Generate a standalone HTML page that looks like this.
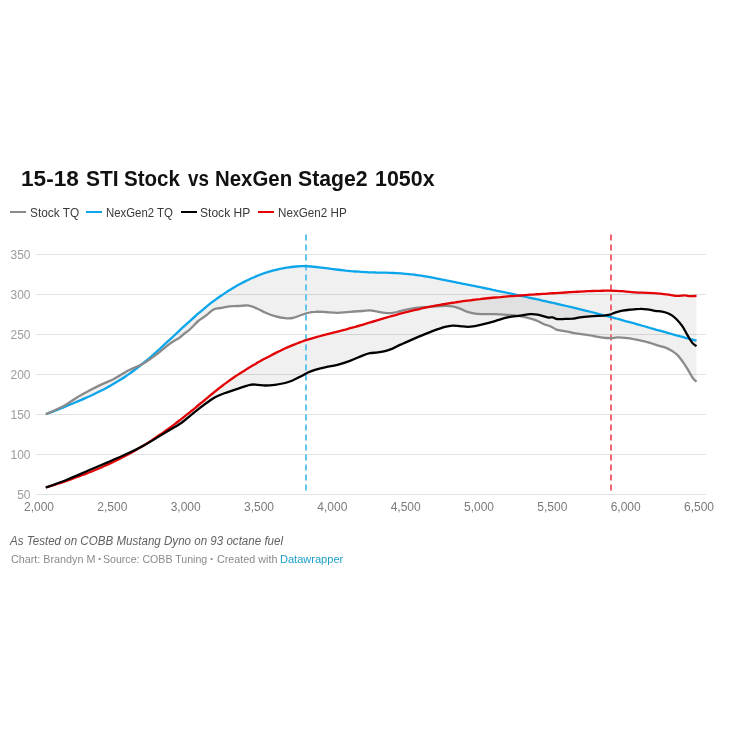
<!DOCTYPE html>
<html lang="en">
<head>
<meta charset="utf-8">
<title>15-18 STI Stock vs NexGen Stage2 1050x</title>
<style>
html,body{margin:0;padding:0;background:#fff;}
body{width:729px;height:729px;position:relative;overflow:hidden;font-family:"Liberation Sans",sans-serif;}
.w{position:absolute;top:0;white-space:nowrap;transform-origin:0 50%;display:block;}
h1{position:absolute;margin:0;left:0;top:164.5px;width:729px;height:28px;font-size:22px;line-height:28px;font-weight:bold;color:#111;white-space:nowrap;transform-origin:0 50%;}
.lg{position:absolute;top:205px;height:16px;line-height:16px;font-size:12px;color:#3a3a3a;white-space:nowrap;transform-origin:0 50%;}
.sw{position:absolute;top:211px;height:2px;width:16px;}
.yl{position:absolute;left:0;width:30.5px;text-align:right;font-size:12px;line-height:16px;color:#9c9c9c;}
.xl{position:absolute;top:499px;width:60px;text-align:center;font-size:12px;line-height:16px;color:#7a7a7a;}
.note{position:absolute;left:10px;top:533px;transform:scaleX(0.9647);color:#626262;font-size:12px;line-height:16px;font-style:italic;white-space:nowrap;transform-origin:0 50%;}
.foot{position:absolute;left:0;top:551.3px;width:729px;height:16px;font-size:11px;line-height:16px;color:#8a8a8a;white-space:nowrap;transform-origin:0 50%;}
.foot a{color:#1d9ec9;text-decoration:none;}
svg{position:absolute;left:0;top:0;}
</style>
</head>
<body>
<h1 id="title"><span class="w" style="left:21.47px;transform:scaleX(1.0273)">15-18</span> <span class="w" style="left:85.55px;transform:scaleX(0.9531)">STI</span> <span class="w" style="left:123.57px;transform:scaleX(0.9322)">Stock</span> <span class="w" style="left:187.6px;transform:scaleX(0.8542)">vs</span> <span class="w" style="left:215.37px;transform:scaleX(0.9272)">NexGen</span> <span class="w" style="left:298.34px;transform:scaleX(0.9643)">Stage2</span> <span class="w" style="left:374.63px;transform:scaleX(0.9733)">1050x</span></h1>
<div class="sw" style="left:10px;background:#8a8a8a"></div><div class="lg" id="l1" style="left:29.51px;transform:scaleX(0.9896)">Stock TQ</div>
<div class="sw" style="left:86px;background:#0aa5ea"></div><div class="lg" id="l2" style="left:106.05px;transform:scaleX(0.9493)">NexGen2 TQ</div>
<div class="sw" style="left:180.6px;background:#000"></div><div class="lg" id="l3" style="left:200.24px;transform:scaleX(1.0052)">Stock HP</div>
<div class="sw" style="left:258px;background:#e30206"></div><div class="lg" id="l4" style="left:277.78px;transform:scaleX(0.971)">NexGen2 HP</div>
<svg width="729" height="729" viewBox="0 0 729 729">
<g shape-rendering="crispEdges">
<line x1="36" x2="706" y1="254.5" y2="254.5" stroke="#e2e2e2" stroke-width="1"/>
<line x1="36" x2="706" y1="294.5" y2="294.5" stroke="#e2e2e2" stroke-width="1"/>
<line x1="36" x2="706" y1="334.5" y2="334.5" stroke="#e2e2e2" stroke-width="1"/>
<line x1="36" x2="706" y1="374.5" y2="374.5" stroke="#e2e2e2" stroke-width="1"/>
<line x1="36" x2="706" y1="414.5" y2="414.5" stroke="#e2e2e2" stroke-width="1"/>
<line x1="36" x2="706" y1="454.5" y2="454.5" stroke="#e2e2e2" stroke-width="1"/>
<line x1="36" x2="706" y1="494.5" y2="494.5" stroke="#e2e2e2" stroke-width="1"/>
</g>
<path d="M45.8,414.2C46.6,413.9 49.1,413.1 50.8,412.4C52.4,411.8 54.1,411.1 55.8,410.4C57.4,409.7 59.1,409.0 60.8,408.4C62.4,407.7 64.1,407.0 65.8,406.4C67.4,405.7 69.1,405.0 70.8,404.3C72.4,403.6 74.1,402.9 75.8,402.2C77.5,401.5 79.1,400.8 80.8,400.1C82.5,399.4 84.1,398.7 85.8,397.9C87.5,397.2 89.1,396.4 90.8,395.7C92.5,394.9 94.1,394.1 95.8,393.3C97.5,392.5 99.1,391.7 100.8,390.8C102.5,390.0 104.2,389.1 105.8,388.2C107.5,387.3 109.2,386.4 110.8,385.5C112.5,384.5 114.2,383.6 115.8,382.6C117.5,381.6 119.2,380.5 120.8,379.5C122.5,378.4 124.2,377.3 125.8,376.2C127.5,375.1 129.2,373.9 130.8,372.8C132.5,371.6 134.2,370.3 135.9,369.1C137.5,367.8 139.2,366.5 140.9,365.1C142.5,363.8 144.2,362.4 145.9,361.0C147.5,359.6 149.2,358.2 150.9,356.8C152.5,355.3 154.2,353.8 155.9,352.3C157.5,350.9 159.2,349.3 160.9,347.8C162.6,346.3 164.2,344.8 165.9,343.2C167.6,341.7 169.2,340.1 170.9,338.6C172.6,337.0 174.2,335.5 175.9,333.9C177.6,332.3 179.2,330.8 180.9,329.2C182.6,327.7 184.2,326.1 185.9,324.6C187.6,323.1 189.2,321.6 190.9,320.1C192.6,318.6 194.3,317.1 195.9,315.6C197.6,314.1 199.3,312.7 200.9,311.3C202.6,309.9 204.3,308.5 205.9,307.1C207.6,305.8 209.3,304.4 210.9,303.1C212.6,301.8 214.3,300.6 215.9,299.4C217.6,298.1 219.3,296.9 221.0,295.8C222.6,294.6 224.3,293.5 226.0,292.4C227.6,291.3 229.3,290.2 231.0,289.2C232.6,288.2 234.3,287.2 236.0,286.2C237.6,285.3 239.3,284.4 241.0,283.5C242.6,282.6 244.3,281.7 246.0,280.9C247.6,280.1 249.3,279.3 251.0,278.5C252.7,277.8 254.3,277.1 256.0,276.4C257.7,275.7 259.3,275.0 261.0,274.4C262.7,273.8 264.3,273.2 266.0,272.7C267.7,272.1 269.3,271.6 271.0,271.1C272.7,270.7 274.3,270.2 276.0,269.8C277.7,269.4 279.4,269.0 281.0,268.7C282.7,268.3 284.4,268.0 286.0,267.7C287.7,267.5 289.4,267.2 291.0,267.0C292.7,266.8 294.4,266.6 296.0,266.5C297.7,266.4 299.4,266.3 301.0,266.2C302.7,266.2 304.4,266.2 306.1,266.2C307.7,266.3 309.4,266.4 311.1,266.5C312.7,266.6 314.4,266.8 316.1,267.0C317.7,267.2 319.4,267.4 321.1,267.6C322.7,267.8 324.4,268.0 326.1,268.2C327.7,268.4 329.4,268.6 331.1,268.8C332.7,269.0 334.4,269.3 336.1,269.5C337.8,269.7 339.4,269.8 341.1,270.0C342.8,270.2 344.4,270.4 346.1,270.6C347.8,270.7 349.4,270.9 351.1,271.1C352.8,271.2 354.4,271.4 356.1,271.5C357.8,271.6 359.4,271.7 361.1,271.8C362.8,271.9 364.5,272.0 366.1,272.1C367.8,272.2 369.5,272.3 371.1,272.3C372.8,272.4 374.5,272.4 376.1,272.5C377.8,272.5 379.5,272.6 381.1,272.6C382.8,272.7 384.5,272.7 386.1,272.7C387.8,272.8 389.5,272.8 391.1,272.9C392.8,273.0 394.5,273.0 396.2,273.1C397.8,273.2 399.5,273.3 401.2,273.4C402.8,273.5 404.5,273.7 406.2,273.8C407.8,274.0 409.5,274.1 411.2,274.3C412.8,274.5 414.5,274.7 416.2,275.0C417.8,275.2 419.5,275.4 421.2,275.7C422.9,276.0 424.5,276.2 426.2,276.5C427.9,276.8 429.5,277.1 431.2,277.4C432.9,277.7 434.5,278.0 436.2,278.4C437.9,278.7 439.5,279.0 441.2,279.3C442.9,279.7 444.5,280.0 446.2,280.3C447.9,280.6 449.5,281.0 451.2,281.3C452.9,281.6 454.6,282.0 456.2,282.3C457.9,282.7 459.6,283.0 461.2,283.3C462.9,283.7 464.6,284.0 466.2,284.3C467.9,284.7 469.6,285.0 471.2,285.4C472.9,285.7 474.6,286.0 476.2,286.4C477.9,286.7 479.6,287.1 481.3,287.4C482.9,287.8 484.6,288.1 486.3,288.5C487.9,288.8 489.6,289.2 491.3,289.5C492.9,289.9 494.6,290.2 496.3,290.6C497.9,290.9 499.6,291.3 501.3,291.6C502.9,292.0 504.6,292.3 506.3,292.7C507.9,293.0 509.6,293.4 511.3,293.7C513.0,294.1 514.6,294.5 516.3,294.8C518.0,295.2 519.6,295.5 521.3,295.9C523.0,296.3 524.6,296.6 526.3,297.0C528.0,297.4 529.6,297.7 531.3,298.1C533.0,298.5 534.6,298.8 536.3,299.2C538.0,299.6 539.7,299.9 541.3,300.3C543.0,300.7 544.7,301.0 546.3,301.4C548.0,301.8 549.7,302.2 551.3,302.5C553.0,302.9 554.7,303.3 556.3,303.7C558.0,304.1 559.7,304.5 561.3,304.8C563.0,305.2 564.7,305.6 566.4,306.0C568.0,306.4 569.7,306.8 571.4,307.2C573.0,307.6 574.7,308.0 576.4,308.4C578.0,308.8 579.7,309.2 581.4,309.6C583.0,310.0 584.7,310.4 586.4,310.8C588.0,311.2 589.7,311.6 591.4,312.0C593.0,312.5 594.7,312.9 596.4,313.3C598.1,313.7 599.7,314.1 601.4,314.6C603.1,315.0 604.7,315.4 606.4,315.9C608.1,316.3 609.7,316.7 611.4,317.2C613.1,317.6 614.7,318.1 616.4,318.5C618.1,319.0 619.7,319.4 621.4,319.9C623.1,320.4 624.8,320.8 626.4,321.3C628.1,321.7 629.8,322.2 631.4,322.7C633.1,323.1 634.8,323.6 636.4,324.1C638.1,324.6 639.8,325.0 641.4,325.5C643.1,326.0 644.8,326.5 646.4,326.9C648.1,327.4 649.8,327.9 651.4,328.4C653.1,328.8 654.8,329.3 656.5,329.8C658.1,330.2 659.8,330.7 661.5,331.2C663.1,331.7 664.8,332.1 666.5,332.6C668.1,333.1 669.8,333.5 671.5,334.0C673.1,334.5 674.8,334.9 676.5,335.4C678.1,335.8 679.8,336.3 681.5,336.7C683.2,337.2 684.8,337.6 686.5,338.1C688.2,338.5 689.8,339.0 691.5,339.4C693.2,339.8 695.7,340.4 696.5,340.6L696.5,381.8C695.8,381.1 693.8,379.5 692.3,377.3C690.8,375.1 689.0,371.3 687.3,368.6C685.6,365.9 684.0,363.4 682.3,361.1C680.6,358.8 679.0,356.6 677.3,354.9C675.6,353.2 674.3,352.4 672.3,351.1C670.2,349.9 667.5,348.3 665.0,347.4C662.5,346.4 659.9,346.1 657.4,345.4C654.9,344.6 652.9,343.7 650.0,342.9C647.1,342.1 643.8,341.2 640.0,340.4C636.2,339.6 631.2,338.6 627.4,338.1C623.6,337.6 620.1,337.4 617.4,337.4C614.7,337.4 613.5,338.1 611.0,338.1C608.5,338.1 606.0,338.1 602.5,337.6C599.0,337.2 594.2,336.1 590.0,335.4C585.8,334.7 581.2,334.2 577.5,333.6C573.8,333.0 570.4,332.2 567.5,331.6C564.6,331.1 561.9,330.6 560.0,330.3C558.1,330.0 558.0,330.3 556.4,329.6C554.8,328.9 552.3,327.1 550.2,326.2C548.1,325.3 546.1,325.2 544.0,324.3C541.9,323.4 539.5,321.9 537.5,321.0C535.5,320.1 534.6,319.6 531.7,318.8C528.8,318.0 524.0,316.9 520.0,316.2C516.0,315.5 511.7,315.2 507.5,314.9C503.3,314.6 499.2,314.3 495.0,314.2C490.8,314.1 485.8,314.3 482.5,314.2C479.2,314.1 477.5,314.1 475.0,313.7C472.5,313.3 470.0,312.7 467.5,311.9C465.0,311.1 462.5,309.6 460.0,308.7C457.5,307.8 455.0,306.9 452.5,306.4C450.0,305.9 448.3,305.8 445.0,305.9C441.7,305.9 436.7,306.4 432.5,306.7C428.3,306.9 424.2,306.9 420.0,307.4C415.8,307.8 410.8,308.8 407.5,309.4C404.2,310.0 402.5,310.6 400.0,311.2C397.5,311.8 395.0,312.6 392.5,312.9C390.0,313.2 387.5,313.1 385.0,312.9C382.5,312.7 380.0,312.1 377.5,311.7C375.0,311.3 372.5,310.5 370.0,310.4C367.5,310.3 365.8,310.8 362.5,311.0C359.2,311.2 354.2,311.5 350.0,311.8C345.8,312.0 341.7,312.7 337.5,312.8C333.3,312.8 328.8,312.2 325.0,312.0C321.2,311.8 317.9,311.6 315.0,311.8C312.1,311.9 310.0,312.4 307.5,313.0C305.0,313.6 302.5,314.7 300.0,315.5C297.5,316.3 295.0,317.5 292.5,318.0C290.0,318.5 287.9,318.5 285.0,318.2C282.1,318.0 278.3,317.2 275.0,316.2C271.7,315.3 267.9,313.8 265.0,312.5C262.1,311.2 260.0,309.9 257.5,308.8C255.0,307.6 252.1,306.3 250.0,305.8C247.9,305.2 247.1,305.5 245.0,305.5C242.9,305.5 239.3,305.9 237.2,306.0C235.1,306.1 234.0,306.1 232.4,306.2C230.8,306.3 229.2,306.4 227.6,306.6C226.0,306.9 224.4,307.4 222.8,307.7C221.2,308.0 219.6,308.0 218.0,308.3C216.4,308.6 214.8,308.8 213.2,309.7C211.6,310.6 210.0,312.3 208.4,313.6C206.8,314.9 205.2,316.2 203.6,317.3C202.0,318.4 200.4,319.2 198.8,320.5C197.2,321.8 195.6,323.7 194.0,325.3C192.4,326.9 190.8,328.6 189.2,330.0C187.6,331.4 186.0,332.2 184.4,333.5C182.8,334.8 181.2,336.4 179.6,337.6C178.0,338.8 176.4,339.5 174.8,340.5C173.2,341.5 173.0,341.3 170.0,343.6C167.0,345.9 161.2,350.9 157.0,354.1C152.8,357.3 149.2,360.1 144.7,362.7C140.2,365.3 133.1,368.3 130.0,369.8C127.0,371.3 129.1,370.0 126.4,371.5C123.7,373.0 118.1,376.8 114.0,378.9C109.9,381.0 105.8,382.4 101.7,384.4C97.6,386.3 93.5,388.4 89.4,390.6C85.3,392.8 81.1,394.9 77.0,397.4C72.9,399.9 69.9,402.6 64.7,405.4C59.5,408.2 48.9,412.8 45.8,414.2Z" fill="#000" fill-opacity="0.06"/>
<path d="M45.8,487.5C46.6,487.3 49.1,486.6 50.7,486.0C52.4,485.5 54.1,485.0 55.7,484.4C57.4,483.9 59.1,483.3 60.7,482.8C62.4,482.2 64.1,481.6 65.7,481.1C67.4,480.5 69.1,479.9 70.7,479.3C72.4,478.7 74.0,478.1 75.7,477.5C77.4,476.9 79.0,476.3 80.7,475.7C82.4,475.1 84.0,474.4 85.7,473.8C87.4,473.2 89.0,472.5 90.7,471.8C92.4,471.2 94.0,470.5 95.7,469.8C97.3,469.1 99.0,468.4 100.7,467.7C102.3,467.0 104.0,466.2 105.7,465.5C107.3,464.7 109.0,464.0 110.7,463.2C112.3,462.4 114.0,461.6 115.7,460.8C117.3,460.0 119.0,459.2 120.7,458.3C122.3,457.5 124.0,456.6 125.6,455.8C127.3,454.9 129.0,454.0 130.6,453.1C132.3,452.1 134.0,451.2 135.6,450.2C137.3,449.3 139.0,448.3 140.6,447.3C142.3,446.3 144.0,445.3 145.6,444.2C147.3,443.2 148.9,442.1 150.6,441.1C152.3,440.0 153.9,438.9 155.6,437.7C157.3,436.6 158.9,435.5 160.6,434.3C162.3,433.2 163.9,432.0 165.6,430.8C167.3,429.6 168.9,428.4 170.6,427.1C172.2,425.9 173.9,424.7 175.6,423.4C177.2,422.1 178.9,420.9 180.6,419.6C182.2,418.3 183.9,417.0 185.6,415.6C187.2,414.3 188.9,413.0 190.6,411.6C192.2,410.3 193.9,408.9 195.6,407.6C197.2,406.2 198.9,404.8 200.5,403.4C202.2,402.1 203.9,400.7 205.5,399.3C207.2,397.9 208.9,396.5 210.5,395.2C212.2,393.8 213.9,392.5 215.5,391.1C217.2,389.8 218.9,388.5 220.5,387.2C222.2,385.9 223.8,384.6 225.5,383.4C227.2,382.2 228.8,381.0 230.5,379.8C232.2,378.6 233.8,377.5 235.5,376.3C237.2,375.2 238.8,374.1 240.5,373.0C242.2,371.9 243.8,370.9 245.5,369.9C247.2,368.8 248.8,367.8 250.5,366.8C252.1,365.8 253.8,364.8 255.5,363.9C257.1,362.9 258.8,362.0 260.5,361.1C262.1,360.1 263.8,359.2 265.5,358.3C267.1,357.4 268.8,356.5 270.5,355.7C272.1,354.8 273.8,353.9 275.4,353.1C277.1,352.3 278.8,351.4 280.4,350.7C282.1,349.9 283.8,349.1 285.4,348.3C287.1,347.6 288.8,346.8 290.4,346.1C292.1,345.4 293.8,344.7 295.4,344.1C297.1,343.4 298.8,342.8 300.4,342.1C302.1,341.5 303.7,341.0 305.4,340.4C307.1,339.8 308.7,339.3 310.4,338.8C312.1,338.3 313.7,337.8 315.4,337.3C317.1,336.9 318.7,336.4 320.4,336.0C322.1,335.5 323.7,335.1 325.4,334.7C327.0,334.3 328.7,333.9 330.4,333.4C332.0,333.0 333.7,332.6 335.4,332.2C337.0,331.8 338.7,331.4 340.4,330.9C342.0,330.5 343.7,330.0 345.4,329.6C347.0,329.1 348.7,328.7 350.3,328.2C352.0,327.7 353.7,327.2 355.3,326.8C357.0,326.3 358.7,325.8 360.3,325.3C362.0,324.8 363.7,324.3 365.3,323.8C367.0,323.4 368.7,322.9 370.3,322.4C372.0,321.9 373.7,321.4 375.3,320.9C377.0,320.4 378.6,319.9 380.3,319.4C382.0,318.9 383.6,318.4 385.3,317.9C387.0,317.4 388.6,317.0 390.3,316.5C392.0,316.0 393.6,315.5 395.3,315.1C397.0,314.6 398.6,314.2 400.3,313.7C401.9,313.3 403.6,312.8 405.3,312.4C406.9,312.0 408.6,311.5 410.3,311.1C411.9,310.7 413.6,310.3 415.3,309.9C416.9,309.6 418.6,309.2 420.3,308.8C421.9,308.4 423.6,308.1 425.2,307.7C426.9,307.4 428.6,307.0 430.2,306.7C431.9,306.4 433.6,306.0 435.2,305.7C436.9,305.4 438.6,305.1 440.2,304.8C441.9,304.5 443.6,304.2 445.2,304.0C446.9,303.7 448.6,303.4 450.2,303.1C451.9,302.9 453.5,302.6 455.2,302.4C456.9,302.1 458.5,301.9 460.2,301.6C461.9,301.4 463.5,301.2 465.2,300.9C466.9,300.7 468.5,300.5 470.2,300.3C471.9,300.1 473.5,299.9 475.2,299.7C476.8,299.5 478.5,299.3 480.2,299.1C481.8,298.9 483.5,298.7 485.2,298.5C486.8,298.4 488.5,298.2 490.2,298.0C491.8,297.9 493.5,297.7 495.2,297.5C496.8,297.4 498.5,297.2 500.2,297.1C501.8,296.9 503.5,296.8 505.1,296.6C506.8,296.5 508.5,296.4 510.1,296.2C511.8,296.1 513.5,296.0 515.1,295.8C516.8,295.7 518.5,295.6 520.1,295.5C521.8,295.3 523.5,295.2 525.1,295.1C526.8,295.0 528.4,294.9 530.1,294.7C531.8,294.6 533.4,294.5 535.1,294.4C536.8,294.3 538.4,294.2 540.1,294.1C541.8,294.0 543.4,293.9 545.1,293.8C546.8,293.6 548.4,293.5 550.1,293.4C551.8,293.3 553.4,293.2 555.1,293.1C556.7,293.0 558.4,292.9 560.1,292.8C561.7,292.7 563.4,292.6 565.1,292.5C566.7,292.4 568.4,292.3 570.1,292.2C571.7,292.1 573.4,292.0 575.1,291.9C576.7,291.8 578.4,291.7 580.0,291.6C581.7,291.5 583.4,291.4 585.0,291.3C586.7,291.2 588.4,291.2 590.0,291.1C591.7,291.0 593.4,291.0 595.0,290.9C596.7,290.9 598.4,290.8 600.0,290.8C601.7,290.8 603.3,290.7 605.0,290.7C606.7,290.7 608.3,290.7 610.0,290.7C611.7,290.8 612.9,290.8 615.0,290.8C617.1,290.9 619.2,290.9 622.5,291.2C625.8,291.5 630.8,292.1 635.0,292.4C639.2,292.7 643.3,292.7 647.5,292.9C651.7,293.1 656.2,293.4 660.0,293.7C663.8,294.0 667.1,294.5 670.0,294.9C672.9,295.3 675.0,295.8 677.5,295.9C680.0,296.0 682.9,295.3 685.0,295.4C687.1,295.4 688.1,296.1 690.0,296.2C691.9,296.3 695.4,295.9 696.5,295.9L696.5,346.1C695.8,345.6 693.8,344.8 692.3,342.9C690.8,341.0 689.0,337.7 687.3,334.9C685.6,332.1 684.2,328.8 682.3,326.1C680.4,323.4 678.0,320.7 676.0,318.7C674.0,316.7 672.3,315.4 670.0,314.2C667.7,313.0 664.8,312.2 662.3,311.7C659.8,311.1 657.5,311.3 655.0,310.9C652.5,310.5 650.0,309.7 647.5,309.4C645.0,309.1 642.9,308.8 640.0,308.9C637.1,308.9 632.9,309.4 630.0,309.7C627.1,310.0 625.0,310.2 622.5,310.7C620.0,311.2 617.3,312.0 615.0,312.7C612.7,313.4 610.8,314.4 608.7,314.9C606.6,315.4 605.6,315.4 602.5,315.7C599.4,315.9 593.8,316.1 590.0,316.4C586.2,316.7 582.9,317.0 580.0,317.4C577.1,317.8 575.0,318.4 572.5,318.7C570.0,318.9 567.5,318.8 565.0,318.9C562.5,319.0 559.6,319.4 557.5,319.1C555.4,318.9 554.2,317.7 552.5,317.4C550.8,317.1 550.0,317.9 547.5,317.4C545.0,316.9 540.4,315.1 537.5,314.6C534.6,314.1 532.9,314.0 530.0,314.2C527.1,314.4 523.8,315.2 520.0,315.7C516.2,316.2 511.7,316.5 507.5,317.4C503.3,318.3 499.2,319.9 495.0,321.1C490.8,322.3 485.8,323.6 482.5,324.4C479.2,325.2 477.5,325.7 475.0,326.1C472.5,326.5 470.0,326.9 467.5,326.9C465.0,326.9 462.5,326.3 460.0,326.1C457.5,325.9 455.0,325.5 452.5,325.6C450.0,325.7 448.3,326.0 445.0,326.9C441.7,327.8 436.7,329.6 432.5,331.1C428.3,332.6 424.2,334.4 420.0,336.1C415.8,337.9 410.8,340.1 407.5,341.6C404.2,343.1 402.5,343.7 400.0,344.9C397.5,346.1 395.0,347.6 392.5,348.6C390.0,349.6 387.5,350.5 385.0,351.1C382.5,351.7 380.0,352.0 377.5,352.4C375.0,352.8 372.5,352.7 370.0,353.2C367.5,353.7 365.8,354.3 362.5,355.6C359.2,356.9 354.2,359.3 350.0,360.8C345.8,362.3 341.7,363.7 337.5,364.8C333.3,365.9 328.8,366.5 325.0,367.3C321.2,368.1 317.9,368.9 315.0,369.8C312.1,370.7 310.0,371.6 307.5,372.8C305.0,374.0 302.5,375.5 300.0,376.8C297.5,378.1 295.0,379.5 292.5,380.5C290.0,381.5 287.9,382.3 285.0,383.0C282.1,383.7 278.3,384.4 275.0,384.8C271.7,385.2 267.9,385.5 265.0,385.5C262.1,385.5 260.0,384.9 257.5,384.8C255.0,384.7 253.3,384.1 250.0,384.8C246.7,385.5 241.7,387.4 237.5,388.8C233.3,390.2 228.8,391.6 225.0,393.0C221.2,394.4 217.9,395.8 215.0,397.3C212.1,398.9 210.0,400.6 207.5,402.3C205.0,404.1 202.5,405.9 200.0,407.8C197.5,409.7 195.8,411.1 192.5,413.8C189.2,416.4 184.2,420.8 180.0,423.8C175.8,426.7 173.8,427.5 167.5,431.2C161.2,435.0 150.8,441.8 142.5,446.2C134.2,450.7 125.8,454.2 117.5,458.0C109.2,461.8 100.8,465.2 92.5,468.8C84.2,472.3 75.3,476.4 67.5,479.5C59.7,482.6 49.4,486.2 45.8,487.5Z" fill="#000" fill-opacity="0.06"/>
<line x1="306" x2="306" y1="234.5" y2="494.5" stroke="#62c6ec" stroke-width="2" stroke-dasharray="6,4"/>
<line x1="611" x2="611" y1="234.5" y2="494.5" stroke="#ef6570" stroke-width="2" stroke-dasharray="6,4"/>
<g fill="none" stroke-width="2.3" stroke-linejoin="round" stroke-linecap="butt">
<path d="M45.8,414.2C46.6,413.9 49.1,413.1 50.8,412.4C52.4,411.8 54.1,411.1 55.8,410.4C57.4,409.7 59.1,409.0 60.8,408.4C62.4,407.7 64.1,407.0 65.8,406.4C67.4,405.7 69.1,405.0 70.8,404.3C72.4,403.6 74.1,402.9 75.8,402.2C77.5,401.5 79.1,400.8 80.8,400.1C82.5,399.4 84.1,398.7 85.8,397.9C87.5,397.2 89.1,396.4 90.8,395.7C92.5,394.9 94.1,394.1 95.8,393.3C97.5,392.5 99.1,391.7 100.8,390.8C102.5,390.0 104.2,389.1 105.8,388.2C107.5,387.3 109.2,386.4 110.8,385.5C112.5,384.5 114.2,383.6 115.8,382.6C117.5,381.6 119.2,380.5 120.8,379.5C122.5,378.4 124.2,377.3 125.8,376.2C127.5,375.1 129.2,373.9 130.8,372.8C132.5,371.6 134.2,370.3 135.9,369.1C137.5,367.8 139.2,366.5 140.9,365.1C142.5,363.8 144.2,362.4 145.9,361.0C147.5,359.6 149.2,358.2 150.9,356.8C152.5,355.3 154.2,353.8 155.9,352.3C157.5,350.9 159.2,349.3 160.9,347.8C162.6,346.3 164.2,344.8 165.9,343.2C167.6,341.7 169.2,340.1 170.9,338.6C172.6,337.0 174.2,335.5 175.9,333.9C177.6,332.3 179.2,330.8 180.9,329.2C182.6,327.7 184.2,326.1 185.9,324.6C187.6,323.1 189.2,321.6 190.9,320.1C192.6,318.6 194.3,317.1 195.9,315.6C197.6,314.1 199.3,312.7 200.9,311.3C202.6,309.9 204.3,308.5 205.9,307.1C207.6,305.8 209.3,304.4 210.9,303.1C212.6,301.8 214.3,300.6 215.9,299.4C217.6,298.1 219.3,296.9 221.0,295.8C222.6,294.6 224.3,293.5 226.0,292.4C227.6,291.3 229.3,290.2 231.0,289.2C232.6,288.2 234.3,287.2 236.0,286.2C237.6,285.3 239.3,284.4 241.0,283.5C242.6,282.6 244.3,281.7 246.0,280.9C247.6,280.1 249.3,279.3 251.0,278.5C252.7,277.8 254.3,277.1 256.0,276.4C257.7,275.7 259.3,275.0 261.0,274.4C262.7,273.8 264.3,273.2 266.0,272.7C267.7,272.1 269.3,271.6 271.0,271.1C272.7,270.7 274.3,270.2 276.0,269.8C277.7,269.4 279.4,269.0 281.0,268.7C282.7,268.3 284.4,268.0 286.0,267.7C287.7,267.5 289.4,267.2 291.0,267.0C292.7,266.8 294.4,266.6 296.0,266.5C297.7,266.4 299.4,266.3 301.0,266.2C302.7,266.2 304.4,266.2 306.1,266.2C307.7,266.3 309.4,266.4 311.1,266.5C312.7,266.6 314.4,266.8 316.1,267.0C317.7,267.2 319.4,267.4 321.1,267.6C322.7,267.8 324.4,268.0 326.1,268.2C327.7,268.4 329.4,268.6 331.1,268.8C332.7,269.0 334.4,269.3 336.1,269.5C337.8,269.7 339.4,269.8 341.1,270.0C342.8,270.2 344.4,270.4 346.1,270.6C347.8,270.7 349.4,270.9 351.1,271.1C352.8,271.2 354.4,271.4 356.1,271.5C357.8,271.6 359.4,271.7 361.1,271.8C362.8,271.9 364.5,272.0 366.1,272.1C367.8,272.2 369.5,272.3 371.1,272.3C372.8,272.4 374.5,272.4 376.1,272.5C377.8,272.5 379.5,272.6 381.1,272.6C382.8,272.7 384.5,272.7 386.1,272.7C387.8,272.8 389.5,272.8 391.1,272.9C392.8,273.0 394.5,273.0 396.2,273.1C397.8,273.2 399.5,273.3 401.2,273.4C402.8,273.5 404.5,273.7 406.2,273.8C407.8,274.0 409.5,274.1 411.2,274.3C412.8,274.5 414.5,274.7 416.2,275.0C417.8,275.2 419.5,275.4 421.2,275.7C422.9,276.0 424.5,276.2 426.2,276.5C427.9,276.8 429.5,277.1 431.2,277.4C432.9,277.7 434.5,278.0 436.2,278.4C437.9,278.7 439.5,279.0 441.2,279.3C442.9,279.7 444.5,280.0 446.2,280.3C447.9,280.6 449.5,281.0 451.2,281.3C452.9,281.6 454.6,282.0 456.2,282.3C457.9,282.7 459.6,283.0 461.2,283.3C462.9,283.7 464.6,284.0 466.2,284.3C467.9,284.7 469.6,285.0 471.2,285.4C472.9,285.7 474.6,286.0 476.2,286.4C477.9,286.7 479.6,287.1 481.3,287.4C482.9,287.8 484.6,288.1 486.3,288.5C487.9,288.8 489.6,289.2 491.3,289.5C492.9,289.9 494.6,290.2 496.3,290.6C497.9,290.9 499.6,291.3 501.3,291.6C502.9,292.0 504.6,292.3 506.3,292.7C507.9,293.0 509.6,293.4 511.3,293.7C513.0,294.1 514.6,294.5 516.3,294.8C518.0,295.2 519.6,295.5 521.3,295.9C523.0,296.3 524.6,296.6 526.3,297.0C528.0,297.4 529.6,297.7 531.3,298.1C533.0,298.5 534.6,298.8 536.3,299.2C538.0,299.6 539.7,299.9 541.3,300.3C543.0,300.7 544.7,301.0 546.3,301.4C548.0,301.8 549.7,302.2 551.3,302.5C553.0,302.9 554.7,303.3 556.3,303.7C558.0,304.1 559.7,304.5 561.3,304.8C563.0,305.2 564.7,305.6 566.4,306.0C568.0,306.4 569.7,306.8 571.4,307.2C573.0,307.6 574.7,308.0 576.4,308.4C578.0,308.8 579.7,309.2 581.4,309.6C583.0,310.0 584.7,310.4 586.4,310.8C588.0,311.2 589.7,311.6 591.4,312.0C593.0,312.5 594.7,312.9 596.4,313.3C598.1,313.7 599.7,314.1 601.4,314.6C603.1,315.0 604.7,315.4 606.4,315.9C608.1,316.3 609.7,316.7 611.4,317.2C613.1,317.6 614.7,318.1 616.4,318.5C618.1,319.0 619.7,319.4 621.4,319.9C623.1,320.4 624.8,320.8 626.4,321.3C628.1,321.7 629.8,322.2 631.4,322.7C633.1,323.1 634.8,323.6 636.4,324.1C638.1,324.6 639.8,325.0 641.4,325.5C643.1,326.0 644.8,326.5 646.4,326.9C648.1,327.4 649.8,327.9 651.4,328.4C653.1,328.8 654.8,329.3 656.5,329.8C658.1,330.2 659.8,330.7 661.5,331.2C663.1,331.7 664.8,332.1 666.5,332.6C668.1,333.1 669.8,333.5 671.5,334.0C673.1,334.5 674.8,334.9 676.5,335.4C678.1,335.8 679.8,336.3 681.5,336.7C683.2,337.2 684.8,337.6 686.5,338.1C688.2,338.5 689.8,339.0 691.5,339.4C693.2,339.8 695.7,340.4 696.5,340.6" stroke="#0aa5ea"/>
<path d="M45.8,414.2C48.9,412.8 59.5,408.2 64.7,405.4C69.9,402.6 72.9,399.9 77.0,397.4C81.1,394.9 85.3,392.8 89.4,390.6C93.5,388.4 97.6,386.3 101.7,384.4C105.8,382.4 109.9,381.0 114.0,378.9C118.1,376.8 123.7,373.0 126.4,371.5C129.1,370.0 127.0,371.3 130.0,369.8C133.1,368.3 140.2,365.3 144.7,362.7C149.2,360.1 152.8,357.3 157.0,354.1C161.2,350.9 167.0,345.9 170.0,343.6C173.0,341.3 173.2,341.5 174.8,340.5C176.4,339.5 178.0,338.8 179.6,337.6C181.2,336.4 182.8,334.8 184.4,333.5C186.0,332.2 187.6,331.4 189.2,330.0C190.8,328.6 192.4,326.9 194.0,325.3C195.6,323.7 197.2,321.8 198.8,320.5C200.4,319.2 202.0,318.4 203.6,317.3C205.2,316.2 206.8,314.9 208.4,313.6C210.0,312.3 211.6,310.6 213.2,309.7C214.8,308.8 216.4,308.6 218.0,308.3C219.6,308.0 221.2,308.0 222.8,307.7C224.4,307.4 226.0,306.9 227.6,306.6C229.2,306.4 230.8,306.3 232.4,306.2C234.0,306.1 235.1,306.1 237.2,306.0C239.3,305.9 242.9,305.5 245.0,305.5C247.1,305.5 247.9,305.2 250.0,305.8C252.1,306.3 255.0,307.6 257.5,308.8C260.0,309.9 262.1,311.2 265.0,312.5C267.9,313.8 271.7,315.3 275.0,316.2C278.3,317.2 282.1,318.0 285.0,318.2C287.9,318.5 290.0,318.5 292.5,318.0C295.0,317.5 297.5,316.3 300.0,315.5C302.5,314.7 305.0,313.6 307.5,313.0C310.0,312.4 312.1,311.9 315.0,311.8C317.9,311.6 321.2,311.8 325.0,312.0C328.8,312.2 333.3,312.8 337.5,312.8C341.7,312.7 345.8,312.0 350.0,311.8C354.2,311.5 359.2,311.2 362.5,311.0C365.8,310.8 367.5,310.3 370.0,310.4C372.5,310.5 375.0,311.3 377.5,311.7C380.0,312.1 382.5,312.7 385.0,312.9C387.5,313.1 390.0,313.2 392.5,312.9C395.0,312.6 397.5,311.8 400.0,311.2C402.5,310.6 404.2,310.0 407.5,309.4C410.8,308.8 415.8,307.8 420.0,307.4C424.2,306.9 428.3,306.9 432.5,306.7C436.7,306.4 441.7,305.9 445.0,305.9C448.3,305.8 450.0,305.9 452.5,306.4C455.0,306.9 457.5,307.8 460.0,308.7C462.5,309.6 465.0,311.1 467.5,311.9C470.0,312.7 472.5,313.3 475.0,313.7C477.5,314.1 479.2,314.1 482.5,314.2C485.8,314.3 490.8,314.1 495.0,314.2C499.2,314.3 503.3,314.6 507.5,314.9C511.7,315.2 516.0,315.5 520.0,316.2C524.0,316.9 528.8,318.0 531.7,318.8C534.6,319.6 535.5,320.1 537.5,321.0C539.5,321.9 541.9,323.4 544.0,324.3C546.1,325.2 548.1,325.3 550.2,326.2C552.3,327.1 554.8,328.9 556.4,329.6C558.0,330.3 558.1,330.0 560.0,330.3C561.9,330.6 564.6,331.1 567.5,331.6C570.4,332.2 573.8,333.0 577.5,333.6C581.2,334.2 585.8,334.7 590.0,335.4C594.2,336.1 599.0,337.2 602.5,337.6C606.0,338.1 608.5,338.1 611.0,338.1C613.5,338.1 614.7,337.4 617.4,337.4C620.1,337.4 623.6,337.6 627.4,338.1C631.2,338.6 636.2,339.6 640.0,340.4C643.8,341.2 647.1,342.1 650.0,342.9C652.9,343.7 654.9,344.6 657.4,345.4C659.9,346.1 662.5,346.4 665.0,347.4C667.5,348.3 670.2,349.9 672.3,351.1C674.3,352.4 675.6,353.2 677.3,354.9C679.0,356.6 680.6,358.8 682.3,361.1C684.0,363.4 685.6,365.9 687.3,368.6C689.0,371.3 690.8,375.1 692.3,377.3C693.8,379.5 695.8,381.1 696.5,381.8" stroke="#8a8a8a"/>
<path d="M45.8,487.5C46.6,487.3 49.1,486.6 50.7,486.0C52.4,485.5 54.1,485.0 55.7,484.4C57.4,483.9 59.1,483.3 60.7,482.8C62.4,482.2 64.1,481.6 65.7,481.1C67.4,480.5 69.1,479.9 70.7,479.3C72.4,478.7 74.0,478.1 75.7,477.5C77.4,476.9 79.0,476.3 80.7,475.7C82.4,475.1 84.0,474.4 85.7,473.8C87.4,473.2 89.0,472.5 90.7,471.8C92.4,471.2 94.0,470.5 95.7,469.8C97.3,469.1 99.0,468.4 100.7,467.7C102.3,467.0 104.0,466.2 105.7,465.5C107.3,464.7 109.0,464.0 110.7,463.2C112.3,462.4 114.0,461.6 115.7,460.8C117.3,460.0 119.0,459.2 120.7,458.3C122.3,457.5 124.0,456.6 125.6,455.8C127.3,454.9 129.0,454.0 130.6,453.1C132.3,452.1 134.0,451.2 135.6,450.2C137.3,449.3 139.0,448.3 140.6,447.3C142.3,446.3 144.0,445.3 145.6,444.2C147.3,443.2 148.9,442.1 150.6,441.1C152.3,440.0 153.9,438.9 155.6,437.7C157.3,436.6 158.9,435.5 160.6,434.3C162.3,433.2 163.9,432.0 165.6,430.8C167.3,429.6 168.9,428.4 170.6,427.1C172.2,425.9 173.9,424.7 175.6,423.4C177.2,422.1 178.9,420.9 180.6,419.6C182.2,418.3 183.9,417.0 185.6,415.6C187.2,414.3 188.9,413.0 190.6,411.6C192.2,410.3 193.9,408.9 195.6,407.6C197.2,406.2 198.9,404.8 200.5,403.4C202.2,402.1 203.9,400.7 205.5,399.3C207.2,397.9 208.9,396.5 210.5,395.2C212.2,393.8 213.9,392.5 215.5,391.1C217.2,389.8 218.9,388.5 220.5,387.2C222.2,385.9 223.8,384.6 225.5,383.4C227.2,382.2 228.8,381.0 230.5,379.8C232.2,378.6 233.8,377.5 235.5,376.3C237.2,375.2 238.8,374.1 240.5,373.0C242.2,371.9 243.8,370.9 245.5,369.9C247.2,368.8 248.8,367.8 250.5,366.8C252.1,365.8 253.8,364.8 255.5,363.9C257.1,362.9 258.8,362.0 260.5,361.1C262.1,360.1 263.8,359.2 265.5,358.3C267.1,357.4 268.8,356.5 270.5,355.7C272.1,354.8 273.8,353.9 275.4,353.1C277.1,352.3 278.8,351.4 280.4,350.7C282.1,349.9 283.8,349.1 285.4,348.3C287.1,347.6 288.8,346.8 290.4,346.1C292.1,345.4 293.8,344.7 295.4,344.1C297.1,343.4 298.8,342.8 300.4,342.1C302.1,341.5 303.7,341.0 305.4,340.4C307.1,339.8 308.7,339.3 310.4,338.8C312.1,338.3 313.7,337.8 315.4,337.3C317.1,336.9 318.7,336.4 320.4,336.0C322.1,335.5 323.7,335.1 325.4,334.7C327.0,334.3 328.7,333.9 330.4,333.4C332.0,333.0 333.7,332.6 335.4,332.2C337.0,331.8 338.7,331.4 340.4,330.9C342.0,330.5 343.7,330.0 345.4,329.6C347.0,329.1 348.7,328.7 350.3,328.2C352.0,327.7 353.7,327.2 355.3,326.8C357.0,326.3 358.7,325.8 360.3,325.3C362.0,324.8 363.7,324.3 365.3,323.8C367.0,323.4 368.7,322.9 370.3,322.4C372.0,321.9 373.7,321.4 375.3,320.9C377.0,320.4 378.6,319.9 380.3,319.4C382.0,318.9 383.6,318.4 385.3,317.9C387.0,317.4 388.6,317.0 390.3,316.5C392.0,316.0 393.6,315.5 395.3,315.1C397.0,314.6 398.6,314.2 400.3,313.7C401.9,313.3 403.6,312.8 405.3,312.4C406.9,312.0 408.6,311.5 410.3,311.1C411.9,310.7 413.6,310.3 415.3,309.9C416.9,309.6 418.6,309.2 420.3,308.8C421.9,308.4 423.6,308.1 425.2,307.7C426.9,307.4 428.6,307.0 430.2,306.7C431.9,306.4 433.6,306.0 435.2,305.7C436.9,305.4 438.6,305.1 440.2,304.8C441.9,304.5 443.6,304.2 445.2,304.0C446.9,303.7 448.6,303.4 450.2,303.1C451.9,302.9 453.5,302.6 455.2,302.4C456.9,302.1 458.5,301.9 460.2,301.6C461.9,301.4 463.5,301.2 465.2,300.9C466.9,300.7 468.5,300.5 470.2,300.3C471.9,300.1 473.5,299.9 475.2,299.7C476.8,299.5 478.5,299.3 480.2,299.1C481.8,298.9 483.5,298.7 485.2,298.5C486.8,298.4 488.5,298.2 490.2,298.0C491.8,297.9 493.5,297.7 495.2,297.5C496.8,297.4 498.5,297.2 500.2,297.1C501.8,296.9 503.5,296.8 505.1,296.6C506.8,296.5 508.5,296.4 510.1,296.2C511.8,296.1 513.5,296.0 515.1,295.8C516.8,295.7 518.5,295.6 520.1,295.5C521.8,295.3 523.5,295.2 525.1,295.1C526.8,295.0 528.4,294.9 530.1,294.7C531.8,294.6 533.4,294.5 535.1,294.4C536.8,294.3 538.4,294.2 540.1,294.1C541.8,294.0 543.4,293.9 545.1,293.8C546.8,293.6 548.4,293.5 550.1,293.4C551.8,293.3 553.4,293.2 555.1,293.1C556.7,293.0 558.4,292.9 560.1,292.8C561.7,292.7 563.4,292.6 565.1,292.5C566.7,292.4 568.4,292.3 570.1,292.2C571.7,292.1 573.4,292.0 575.1,291.9C576.7,291.8 578.4,291.7 580.0,291.6C581.7,291.5 583.4,291.4 585.0,291.3C586.7,291.2 588.4,291.2 590.0,291.1C591.7,291.0 593.4,291.0 595.0,290.9C596.7,290.9 598.4,290.8 600.0,290.8C601.7,290.8 603.3,290.7 605.0,290.7C606.7,290.7 608.3,290.7 610.0,290.7C611.7,290.8 612.9,290.8 615.0,290.8C617.1,290.9 619.2,290.9 622.5,291.2C625.8,291.5 630.8,292.1 635.0,292.4C639.2,292.7 643.3,292.7 647.5,292.9C651.7,293.1 656.2,293.4 660.0,293.7C663.8,294.0 667.1,294.5 670.0,294.9C672.9,295.3 675.0,295.8 677.5,295.9C680.0,296.0 682.9,295.3 685.0,295.4C687.1,295.4 688.1,296.1 690.0,296.2C691.9,296.3 695.4,295.9 696.5,295.9" stroke="#e30206"/>
<path d="M45.8,487.5C49.4,486.2 59.7,482.6 67.5,479.5C75.3,476.4 84.2,472.3 92.5,468.8C100.8,465.2 109.2,461.8 117.5,458.0C125.8,454.2 134.2,450.7 142.5,446.2C150.8,441.8 161.2,435.0 167.5,431.2C173.8,427.5 175.8,426.7 180.0,423.8C184.2,420.8 189.2,416.4 192.5,413.8C195.8,411.1 197.5,409.7 200.0,407.8C202.5,405.9 205.0,404.1 207.5,402.3C210.0,400.6 212.1,398.9 215.0,397.3C217.9,395.8 221.2,394.4 225.0,393.0C228.8,391.6 233.3,390.2 237.5,388.8C241.7,387.4 246.7,385.5 250.0,384.8C253.3,384.1 255.0,384.7 257.5,384.8C260.0,384.9 262.1,385.5 265.0,385.5C267.9,385.5 271.7,385.2 275.0,384.8C278.3,384.4 282.1,383.7 285.0,383.0C287.9,382.3 290.0,381.5 292.5,380.5C295.0,379.5 297.5,378.1 300.0,376.8C302.5,375.5 305.0,374.0 307.5,372.8C310.0,371.6 312.1,370.7 315.0,369.8C317.9,368.9 321.2,368.1 325.0,367.3C328.8,366.5 333.3,365.9 337.5,364.8C341.7,363.7 345.8,362.3 350.0,360.8C354.2,359.3 359.2,356.9 362.5,355.6C365.8,354.3 367.5,353.7 370.0,353.2C372.5,352.7 375.0,352.8 377.5,352.4C380.0,352.0 382.5,351.7 385.0,351.1C387.5,350.5 390.0,349.6 392.5,348.6C395.0,347.6 397.5,346.1 400.0,344.9C402.5,343.7 404.2,343.1 407.5,341.6C410.8,340.1 415.8,337.9 420.0,336.1C424.2,334.4 428.3,332.6 432.5,331.1C436.7,329.6 441.7,327.8 445.0,326.9C448.3,326.0 450.0,325.7 452.5,325.6C455.0,325.5 457.5,325.9 460.0,326.1C462.5,326.3 465.0,326.9 467.5,326.9C470.0,326.9 472.5,326.5 475.0,326.1C477.5,325.7 479.2,325.2 482.5,324.4C485.8,323.6 490.8,322.3 495.0,321.1C499.2,319.9 503.3,318.3 507.5,317.4C511.7,316.5 516.2,316.2 520.0,315.7C523.8,315.2 527.1,314.4 530.0,314.2C532.9,314.0 534.6,314.1 537.5,314.6C540.4,315.1 545.0,316.9 547.5,317.4C550.0,317.9 550.8,317.1 552.5,317.4C554.2,317.7 555.4,318.9 557.5,319.1C559.6,319.4 562.5,319.0 565.0,318.9C567.5,318.8 570.0,318.9 572.5,318.7C575.0,318.4 577.1,317.8 580.0,317.4C582.9,317.0 586.2,316.7 590.0,316.4C593.8,316.1 599.4,315.9 602.5,315.7C605.6,315.4 606.6,315.4 608.7,314.9C610.8,314.4 612.7,313.4 615.0,312.7C617.3,312.0 620.0,311.2 622.5,310.7C625.0,310.2 627.1,310.0 630.0,309.7C632.9,309.4 637.1,308.9 640.0,308.9C642.9,308.8 645.0,309.1 647.5,309.4C650.0,309.7 652.5,310.5 655.0,310.9C657.5,311.3 659.8,311.1 662.3,311.7C664.8,312.2 667.7,313.0 670.0,314.2C672.3,315.4 674.0,316.7 676.0,318.7C678.0,320.7 680.4,323.4 682.3,326.1C684.2,328.8 685.6,332.1 687.3,334.9C689.0,337.7 690.8,341.0 692.3,342.9C693.8,344.8 695.8,345.6 696.5,346.1" stroke="#000"/>
</g>
</svg>
<div class="yl" style="top:246.5px">350</div>
<div class="yl" style="top:286.5px">300</div>
<div class="yl" style="top:326.5px">250</div>
<div class="yl" style="top:366.5px">200</div>
<div class="yl" style="top:406.5px">150</div>
<div class="yl" style="top:446.5px">100</div>
<div class="yl" style="top:486.5px">50</div>
<div class="xl" style="left:9.0px">2,000</div>
<div class="xl" style="left:82.3px">2,500</div>
<div class="xl" style="left:155.7px">3,000</div>
<div class="xl" style="left:229.0px">3,500</div>
<div class="xl" style="left:302.3px">4,000</div>
<div class="xl" style="left:375.7px">4,500</div>
<div class="xl" style="left:449.0px">5,000</div>
<div class="xl" style="left:522.3px">5,500</div>
<div class="xl" style="left:595.7px">6,000</div>
<div class="xl" style="left:669.0px">6,500</div>
<div class="note" id="note">As Tested on COBB Mustang Dyno on 93 octane fuel</div>
<div class="foot" id="foot"><span class="w" style="left:10.5px;transform:scaleX(0.9794)">Chart: Brandyn M</span> <span class="w" style="left:98.2px;font-size:8px">&bull;</span> <span class="w" style="left:102.79px;transform:scaleX(0.9626)">Source: COBB Tuning</span> <span class="w" style="left:210.3px;font-size:8px">&bull;</span> <span class="w" style="left:217.0px;transform:scaleX(0.9795)">Created with</span> <a><span class="w" style="left:279.75px;transform:scaleX(1.004)">Datawrapper</span></a></div>
</body>
</html>
